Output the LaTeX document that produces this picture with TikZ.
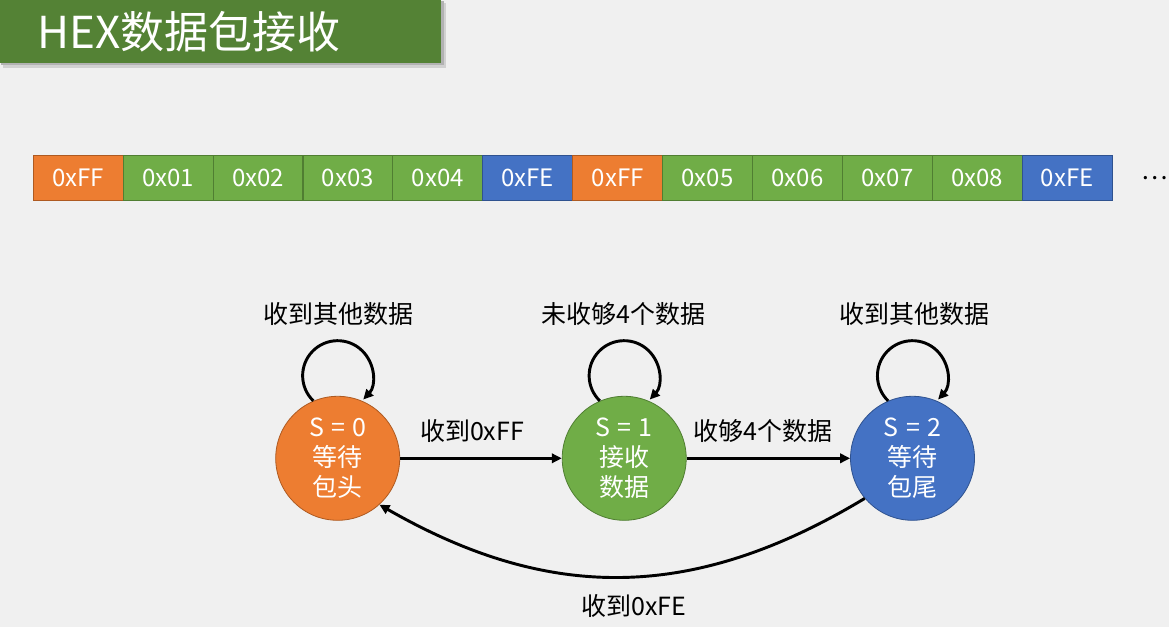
\documentclass[tikz,border=0pt]{standalone}
\usepackage{fontspec}
\setmainfont{Noto Sans CJK SC}
\usetikzlibrary{arrows.meta}
\definecolor{bgc}{HTML}{F0F0F0}
\definecolor{titlegreen}{HTML}{548235}
\definecolor{ofill}{HTML}{ED7D31}
\definecolor{oline}{HTML}{AE5A21}
\definecolor{gfill}{HTML}{70AD47}
\definecolor{gline}{HTML}{507E32}
\definecolor{bfill}{HTML}{4472C4}
\definecolor{bline}{HTML}{2F528F}
\tikzset{
  cellbox/.style={rectangle, minimum width=67.4pt, minimum height=34.1pt, inner sep=0pt, line width=0.8pt, text=white, font=\fontsize{18}{20}\selectfont},
  cello/.style={fill=ofill, draw=oline},
  cellg/.style={fill=gfill, draw=gline},
  cellb/.style={fill=bfill, draw=bline},
  statenode/.style={circle, minimum size=93pt, inner sep=0pt, line width=0.6pt, text=white, align=center, font=\fontsize{18.75}{22.5}\selectfont},
  arr/.style={line width=2.2pt, -{Triangle[length=7.5pt,width=7pt]}},
  lbl/.style={font=\fontsize{18.75}{22.5}\selectfont, text=black, inner sep=0pt}
}
\newcommand{\wsp}{\hspace{5.5pt}}
\begin{document}
\begin{tikzpicture}[x=0.75pt,y=0.75pt]
\fill[bgc] (0,0) rectangle (1169,-627);
\useasboundingbox (0,0) rectangle (1169,-627);
% title banner
\fill[black!18] (3,-3) rectangle (446,-68);
\fill[black!30] (1,-1) rectangle (443.5,-65.5);
\fill[titlegreen] (0,0) rectangle (440.7,-63);
\node[anchor=base west, inner sep=0pt, text=white, font=\fontsize{33}{40}\selectfont] (title) at (37,-48.3) {HEX数据包接收};
% byte cells
\foreach \i/\t/\k in {1/0xFF/o,2/0x01/g,3/0x02/g,4/0x03/g,5/0x04/g,6/0xFE/b,7/0xFF/o,8/0x05/g,9/0x06/g,10/0x07/g,11/0x08/g,12/0xFE/b}{
  \node[cellbox, cell\k] (c\i) at ({33.3+(\i-0.5)*89.9},-178) {\t};
}
\node[lbl] (dots) at (1155,-178) {…};
% states
\node[statenode, fill=ofill, draw=oline] (s0) at (337.7,-458.3) {S\wsp=\wsp0\\等待\\包头};
\node[statenode, fill=gfill, draw=gline] (s1) at (624.2,-458.3) {S\wsp=\wsp1\\接收\\数据};
\node[statenode, fill=bfill, draw=bline] (s2) at (912.5,-458.3) {S\wsp=\wsp2\\等待\\包尾};
% self loops
\draw[arr] (s0.113) arc[start angle=226, end angle=-43, radius=35];
\draw[arr] (s1.113) arc[start angle=226, end angle=-43, radius=35];
\draw[arr] (s2.113) arc[start angle=226, end angle=-43, radius=35];
\node[lbl] (l0) at (338,-314.5) {收到其他数据};
\node[lbl] (l1) at (623.5,-314.5) {未收够4个数据};
\node[lbl] (l2) at (914,-314.5) {收到其他数据};
% transitions
\draw[arr] (s0) -- (s1);
\draw[arr] (s1) -- (s2);
\node[lbl] (t01) at (472,-431.5) {收到0xFF};
\node[lbl] (t12) at (763.3,-431.5) {收够4个数据};
\draw[arr] (s2.220) .. controls (693,-602) and (549,-602) .. (s0.312);
\node[lbl] (t20) at (634,-606) {收到0xFE};
\end{tikzpicture}
\end{document}
